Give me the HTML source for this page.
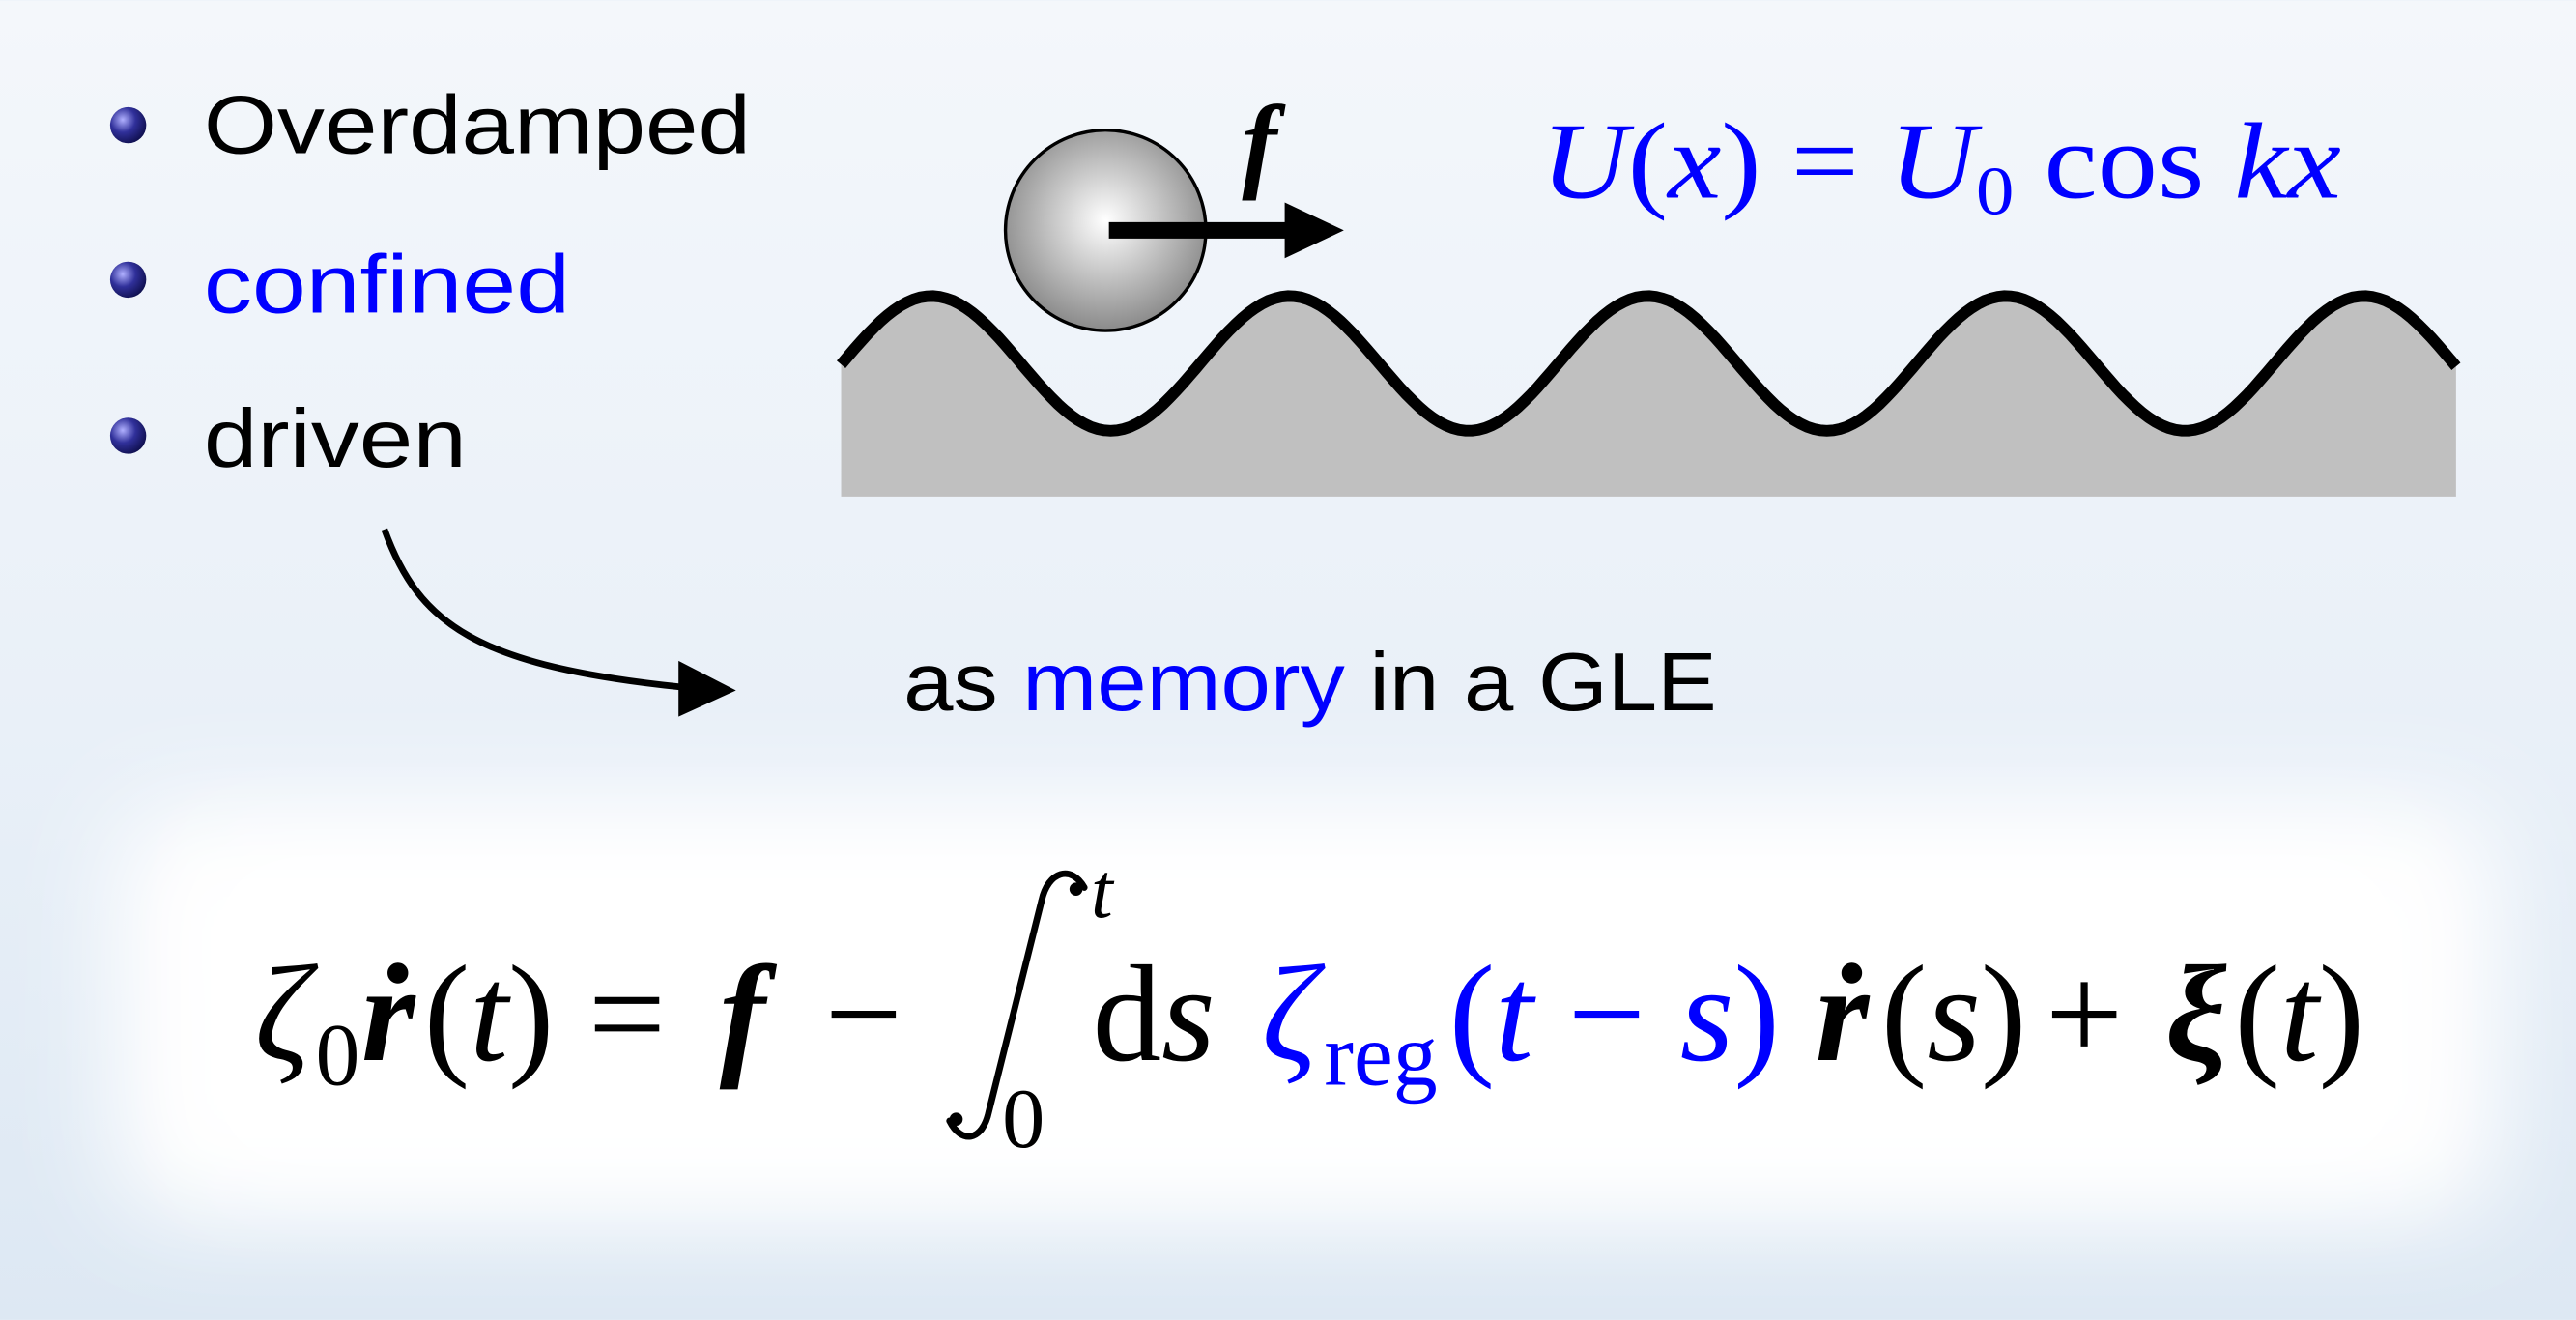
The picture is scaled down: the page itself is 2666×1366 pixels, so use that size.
<!DOCTYPE html>
<html><head><meta charset="utf-8"><style>
html,body{margin:0;padding:0;width:2666px;height:1366px;overflow:hidden;background:#e6eef7}
svg{display:block}
.s{font-family:"Liberation Sans",sans-serif}
.m{font-family:"Liberation Serif",serif}
</style></head><body>
<svg width="2666" height="1366" viewBox="0 0 1568 803" xmlns="http://www.w3.org/2000/svg">
<defs>
<linearGradient id="bg" x1="0" y1="0" x2="0" y2="1">
<stop offset="0" stop-color="#f4f7fb"/><stop offset="0.55" stop-color="#e9f0f8"/><stop offset="1" stop-color="#dde8f3"/>
</linearGradient>
<radialGradient id="ball" cx="0.5" cy="0.45" r="0.55">
<stop offset="0" stop-color="#ffffff"/><stop offset="1" stop-color="#8a8a8a"/>
</radialGradient>
<radialGradient id="bul" cx="0.35" cy="0.35" r="0.7">
<stop offset="0" stop-color="#b0b0ff"/><stop offset="0.5" stop-color="#30309a"/><stop offset="1" stop-color="#101050"/>
</radialGradient>
<filter id="bl" x="-10%" y="-30%" width="120%" height="160%"><feGaussianBlur stdDeviation="30"/></filter>
</defs>
<rect width="1568" height="803" fill="url(#bg)"/>
<rect x="70" y="490" width="1450" height="250" rx="40" fill="#ffffff" filter="url(#bl)"/>
<rect x="130" y="520" width="1330" height="190" fill="#ffffff" filter="url(#bl)"/>
<circle cx="78" cy="76" r="11" fill="url(#bul)"/>
<circle cx="78" cy="170" r="11" fill="url(#bul)"/>
<circle cx="78" cy="265" r="11" fill="url(#bul)"/>
<text class="s" x="124" y="93" font-size="50" textLength="333" lengthAdjust="spacingAndGlyphs" fill="#000">Overdamped</text>
<text class="s" x="124" y="190" font-size="50" textLength="223" lengthAdjust="spacingAndGlyphs" fill="#0000ff">confined</text>
<text class="s" x="124" y="284" font-size="50" textLength="160" lengthAdjust="spacingAndGlyphs" fill="#000">driven</text>
<path id="fill" fill="#c0c0c0"/>
<path id="wave" fill="none" stroke="#000" stroke-width="7"/>
<script>
(function(){var p=[];for(var x=512;x<=1495;x+=4){p.push(x+','+(221-41*Math.cos(2*Math.PI*(x-567)/218)).toFixed(1));}
p.push('1495,'+(221-41*Math.cos(2*Math.PI*(1495-567)/218)).toFixed(1));
var d='M'+p.join(' L');document.getElementById('wave').setAttribute('d',d);
document.getElementById('fill').setAttribute('d',d+' L1495,302 L512,302 Z');})();
</script>
<circle cx="673" cy="140" r="61" fill="url(#ball)" stroke="#000" stroke-width="2"/>
<rect x="675" y="135" width="112" height="10" fill="#000"/>
<polygon points="782,123 818,140 782,157" fill="#000"/>
<text class="m" x="756" y="108" font-size="64" font-style="italic" font-weight="bold">f</text>
<text class="m" x="938" y="120" font-size="66" fill="#0000ff" textLength="487" lengthAdjust="spacingAndGlyphs"><tspan font-style="italic">U</tspan>(<tspan font-style="italic">x</tspan>) = <tspan font-style="italic">U</tspan><tspan font-size="42" dy="10">0</tspan><tspan dy="-10"> cos </tspan><tspan font-style="italic">kx</tspan></text>
<path d="M234,322 C255,380 290,405 415,418" fill="none" stroke="#000" stroke-width="4"/>
<polygon points="413,402 448,420 413,436" fill="#000"/>
<text class="s" x="550" y="432" font-size="50" textLength="495" lengthAdjust="spacingAndGlyphs"><tspan fill="#000">as </tspan><tspan fill="#0000ff">memory</tspan><tspan fill="#000"> in a GLE</tspan></text>
<g class="m" font-size="84" fill="#000">
<text x="155" y="645" font-style="italic">ζ</text>
<text x="192" y="660" font-size="54">0</text>
<text x="220" y="645" font-style="italic" font-weight="bold">ṙ</text>
<text x="258" y="645">(<tspan font-style="italic">t</tspan>)</text>
<text x="358" y="645">=</text>
<text x="438" y="645" font-style="italic" font-weight="bold">f</text>
<text x="502" y="645">−</text>
<text x="665" y="645">d<tspan font-style="italic">s</tspan></text>
<text x="768" y="645" font-style="italic" fill="#0000ff">ζ</text>
<text x="806" y="660" font-size="54" fill="#0000ff">reg</text>
<text x="882" y="645" fill="#0000ff">(<tspan font-style="italic">t</tspan> − <tspan font-style="italic">s</tspan>)</text>
<text x="1105" y="645" font-style="italic" font-weight="bold">ṙ</text>
<text x="1145" y="645">(<tspan font-style="italic">s</tspan>)</text>
<text x="1245" y="645">+</text>
<text x="1318" y="645" font-style="italic" font-weight="bold">ξ</text>
<text x="1360" y="645">(<tspan font-style="italic">t</tspan>)</text>
<text x="664" y="558" font-size="48" font-style="italic">t</text>
<text x="610" y="698" font-size="52">0</text>
</g>
<path d="M660,540 C652,526 638,530 634,548 L602,676 C598,695 585,696 578,682" fill="none" stroke="#000" stroke-width="4" stroke-linecap="round"/>
<circle cx="655" cy="541" r="4" fill="#000"/>
<circle cx="582" cy="681" r="4" fill="#000"/>
</svg>
</body></html>
